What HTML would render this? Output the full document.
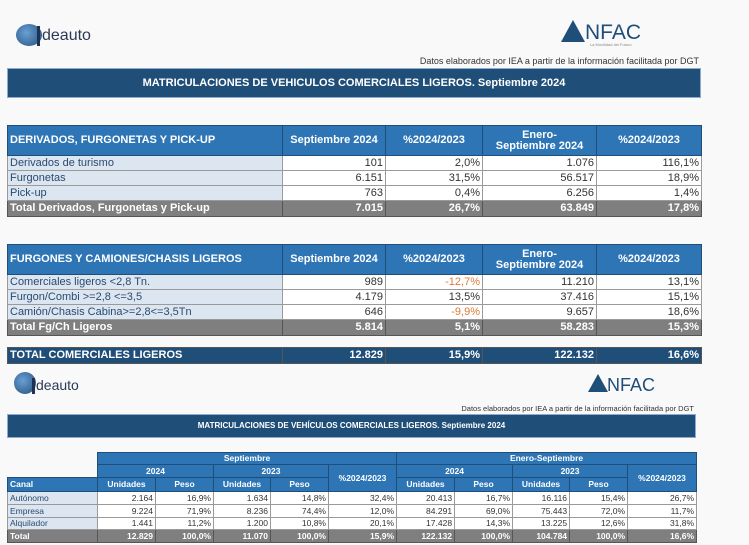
<!DOCTYPE html>
<html><head><meta charset="utf-8"><style>
body{margin:0;width:749px;height:545px;background:#f9f9f9;position:relative;overflow:hidden;font-family:"Liberation Sans",sans-serif;}
.a{position:absolute}
.bar{background:#1f4e79;color:#fff;font-weight:bold;text-align:center;border:1px solid #8eaacc;box-sizing:border-box}
table{position:absolute;border-collapse:collapse;table-layout:fixed;font-size:11px;color:#333}
td{padding:0 2px;border:1px solid #9a9a9a;white-space:nowrap;overflow:hidden;background:#fff;text-align:right;line-height:1}
td.l{text-align:left;background:#dce6f1;color:#2a4a70}
tr.h td{background:#2e75b6;color:#fff;font-weight:bold;text-align:center;border-color:#1f4e79}
tr.h td.l{text-align:left;background:#2e75b6;color:#fff}
tr.t td{background:#7f7f7f;color:#fff;font-weight:bold;border-color:#555}
tr.t td.l{background:#7f7f7f;color:#fff}
.o{color:#e07b39}
.logo{width:26px;height:22px;border-radius:50%;background:radial-gradient(circle at 40% 40%,#6a9fd4,#1f4e79)}
.note{font-size:9px;color:#333;text-align:right}
</style></head><body>
<!-- logos 1 -->
<div class="a logo" style="left:16px;top:24px"></div>
<div class="a" style="left:37px;top:26px;width:3px;height:20px;background:#1f3050"></div>
<div class="a" style="left:42px;top:27px;font-size:16px;color:#2a3a55">deauto</div>
<div class="a" style="left:561px;top:20px;width:0;height:0;border-left:12px solid transparent;border-right:12px solid transparent;border-bottom:22px solid #1f4e79"></div>
<div class="a" style="left:585px;top:21px;font-size:21px;color:#1f4e79">NFAC</div>
<div class="a" style="left:590px;top:42px;font-size:4px;color:#888">La Movilidad del Futuro</div>
<div class="a note" style="left:300px;top:56px;width:399px">Datos elaborados por IEA a partir de la información facilitada por DGT</div>
<div class="a bar" style="left:7px;top:68px;width:694px;height:30px;line-height:28px;font-size:11px">MATRICULACIONES DE VEHICULOS COMERCIALES LIGEROS. Septiembre 2024</div>

<table style="left:7px;top:125px;width:694px">
<colgroup><col style="width:275px"><col style="width:103px"><col style="width:97px"><col style="width:114px"><col style="width:105px"></colgroup>
<tr class="h" style="height:30px"><td class="l">DERIVADOS, FURGONETAS Y PICK-UP</td><td>Septiembre 2024</td><td>%2024/2023</td><td>Enero-<br>Septiembre 2024</td><td>%2024/2023</td></tr>
<tr style="height:15px"><td class="l">Derivados de turismo</td><td>101</td><td>2,0%</td><td>1.076</td><td>116,1%</td></tr>
<tr style="height:15px"><td class="l">Furgonetas</td><td>6.151</td><td>31,5%</td><td>56.517</td><td>18,9%</td></tr>
<tr style="height:15px"><td class="l">Pick-up</td><td>763</td><td>0,4%</td><td>6.256</td><td>1,4%</td></tr>
<tr class="t" style="height:16px"><td class="l">Total Derivados, Furgonetas y Pick-up</td><td>7.015</td><td>26,7%</td><td>63.849</td><td>17,8%</td></tr>
</table>

<table style="left:7px;top:244px;width:694px">
<colgroup><col style="width:275px"><col style="width:103px"><col style="width:97px"><col style="width:114px"><col style="width:105px"></colgroup>
<tr class="h" style="height:30px"><td class="l">FURGONES Y CAMIONES/CHASIS LIGEROS</td><td>Septiembre 2024</td><td>%2024/2023</td><td>Enero-<br>Septiembre 2024</td><td>%2024/2023</td></tr>
<tr style="height:15px"><td class="l">Comerciales ligeros &lt;2,8 Tn.</td><td>989</td><td class="o">-12,7%</td><td>11.210</td><td>13,1%</td></tr>
<tr style="height:15px"><td class="l">Furgon/Combi &gt;=2,8 &lt;=3,5</td><td>4.179</td><td>13,5%</td><td>37.416</td><td>15,1%</td></tr>
<tr style="height:15px"><td class="l">Camión/Chasis Cabina&gt;=2,8&lt;=3,5Tn</td><td>646</td><td class="o">-9,9%</td><td>9.657</td><td>18,6%</td></tr>
<tr class="t" style="height:16px"><td class="l">Total Fg/Ch Ligeros</td><td>5.814</td><td>5,1%</td><td>58.283</td><td>15,3%</td></tr>
</table>

<table style="left:7px;top:347px;width:694px">
<colgroup><col style="width:275px"><col style="width:103px"><col style="width:97px"><col style="width:114px"><col style="width:105px"></colgroup>
<tr class="t" style="height:16px"><td class="l" style="background:#1f4e79">TOTAL COMERCIALES LIGEROS</td><td style="background:#1f4e79">12.829</td><td style="background:#1f4e79">15,9%</td><td style="background:#1f4e79">122.132</td><td style="background:#1f4e79">16,6%</td></tr>
</table>

<!-- logos 2 -->
<div class="a logo" style="left:14px;top:372px;width:22px;height:22px"></div>
<div class="a" style="left:32px;top:378px;width:3px;height:16px;background:#1f3050"></div>
<div class="a" style="left:36px;top:377px;font-size:14px;color:#2a3a55">deauto</div>
<div class="a" style="left:588px;top:374px;width:0;height:0;border-left:10px solid transparent;border-right:10px solid transparent;border-bottom:18px solid #1f4e79"></div>
<div class="a" style="left:607px;top:375px;font-size:18px;color:#1f4e79">NFAC</div>
<div class="a note" style="left:300px;top:404px;width:394px;font-size:7.5px">Datos elaborados por IEA a partir de la información facilitada por DGT</div>
<div class="a bar" style="left:7px;top:414px;width:689px;height:24px;line-height:22px;font-size:8px">MATRICULACIONES DE VEHÍCULOS COMERCIALES LIGEROS. Septiembre 2024</div>

<table style="left:7px;top:452px;width:689px;font-size:8.5px">
<colgroup><col style="width:90px"><col style="width:58px"><col style="width:58px"><col style="width:57px"><col style="width:58px"><col style="width:68px"><col style="width:58px"><col style="width:58px"><col style="width:57px"><col style="width:58px"><col style="width:69px"></colgroup>
<tr class="h" style="height:12px"><td style="background:#f9f9f9;border:none"></td><td colspan="5">Septiembre</td><td colspan="5">Enero-Septiembre</td></tr>
<tr class="h" style="height:13px"><td style="background:#f9f9f9;border:none"></td><td colspan="2">2024</td><td colspan="2">2023</td><td rowspan="2">%2024/2023</td><td colspan="2">2024</td><td colspan="2">2023</td><td rowspan="2">%2024/2023</td></tr>
<tr class="h" style="height:14px"><td class="l">Canal</td><td>Unidades</td><td>Peso</td><td>Unidades</td><td>Peso</td><td>Unidades</td><td>Peso</td><td>Unidades</td><td>Peso</td></tr>
<tr style="height:13px"><td class="l">Autónomo</td><td>2.164</td><td>16,9%</td><td>1.634</td><td>14,8%</td><td>32,4%</td><td>20.413</td><td>16,7%</td><td>16.116</td><td>15,4%</td><td>26,7%</td></tr>
<tr style="height:13px"><td class="l">Empresa</td><td>9.224</td><td>71,9%</td><td>8.236</td><td>74,4%</td><td>12,0%</td><td>84.291</td><td>69,0%</td><td>75.443</td><td>72,0%</td><td>11,7%</td></tr>
<tr style="height:12px"><td class="l">Alquilador</td><td>1.441</td><td>11,2%</td><td>1.200</td><td>10,8%</td><td>20,1%</td><td>17.428</td><td>14,3%</td><td>13.225</td><td>12,6%</td><td>31,8%</td></tr>
<tr class="t" style="height:13px"><td class="l">Total</td><td>12.829</td><td>100,0%</td><td>11.070</td><td>100,0%</td><td>15,9%</td><td>122.132</td><td>100,0%</td><td>104.784</td><td>100,0%</td><td>16,6%</td></tr>
</table>
</body></html>
